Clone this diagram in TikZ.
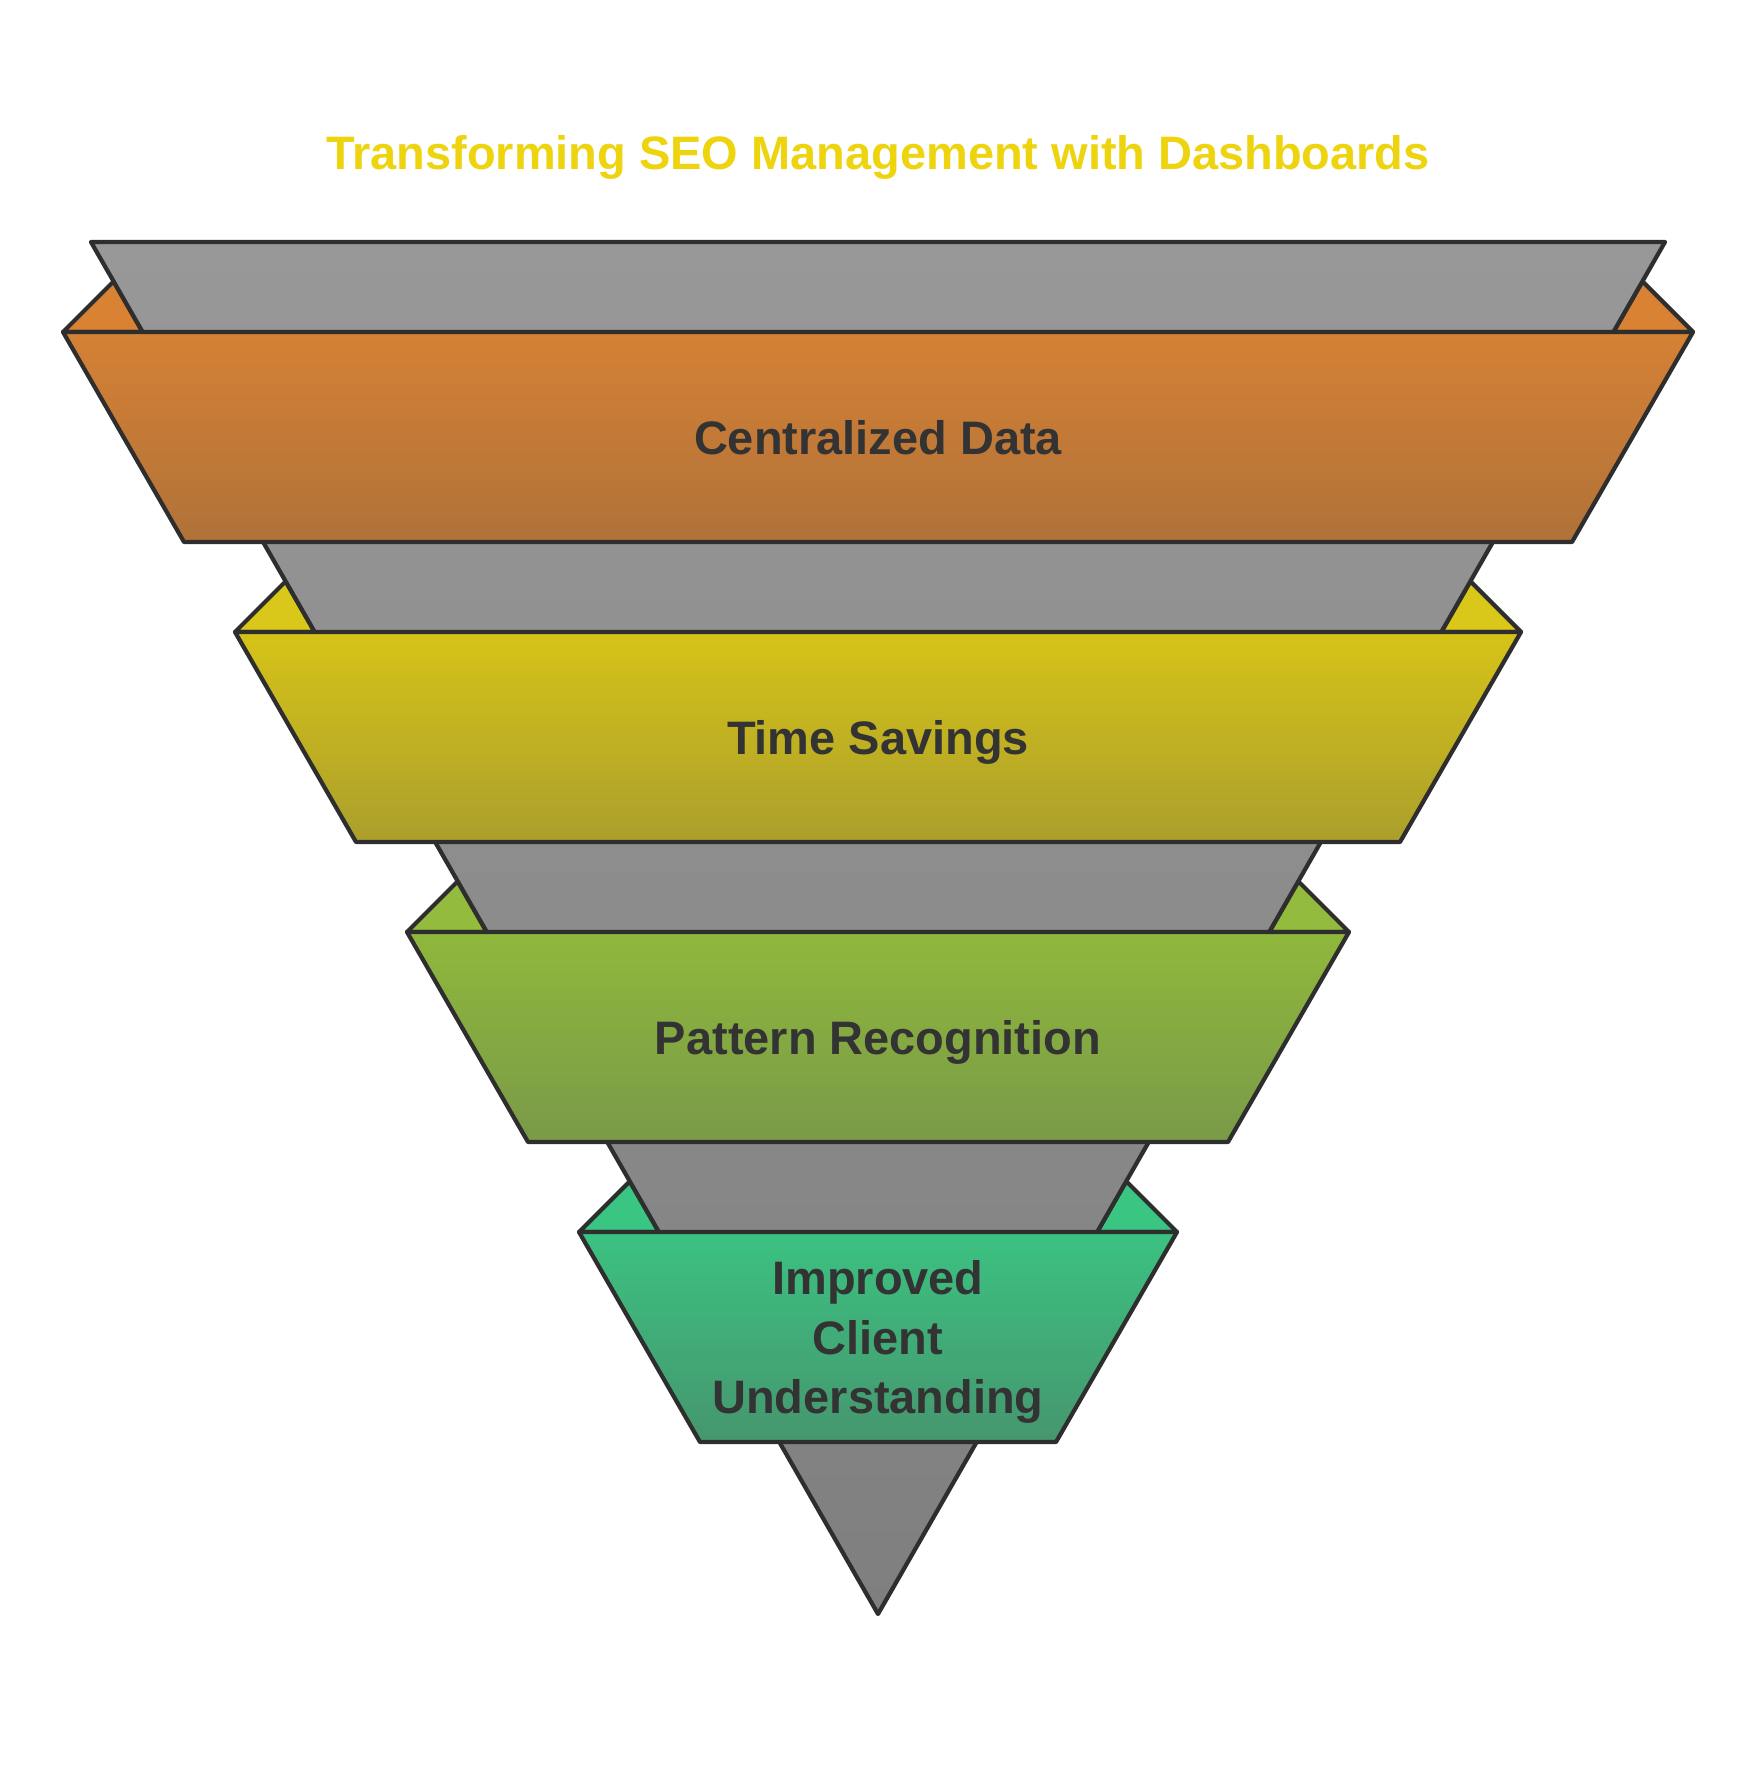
\documentclass[tikz,border=0pt]{standalone}
\usepackage{fontspec}
\setmainfont{Liberation Sans}
\definecolor{lineC}{HTML}{2E2E2E}
\definecolor{textC}{HTML}{333333}
\definecolor{titleC}{HTML}{EDD40F}
\definecolor{grayTop}{HTML}{989898}
\definecolor{grayBot}{HTML}{7F7F7F}
\definecolor{orTop}{HTML}{D58135}
\definecolor{orBot}{HTML}{B07238}
\definecolor{orTab}{HTML}{D98234}
\definecolor{ylTop}{HTML}{D6C318}
\definecolor{ylBot}{HTML}{AB9F2C}
\definecolor{ylTab}{HTML}{D9C719}
\definecolor{grTop}{HTML}{8FB83C}
\definecolor{grBot}{HTML}{7A9A48}
\definecolor{grTab}{HTML}{93BB3D}
\definecolor{tlTop}{HTML}{3BC281}
\definecolor{tlBot}{HTML}{46966E}
\definecolor{tlTab}{HTML}{3BC583}
\tikzset{
	outline/.style={draw=lineC,line width=1.2pt,line join=round},
	funnel/.style={outline,top color=grayTop,bottom color=grayBot},
	tabtri/.style={outline,fill=#1},
	bandbox/.style 2 args={outline,top color=#1,bottom color=#2},
	lbl/.style={font=\bfseries\fontsize{13.35}{17}\selectfont,text=textC,align=center,text depth=0pt}
}

\begin{document}
\begin{tikzpicture}[x=0.01cm,y=-0.01cm]
	\useasboundingbox (0,0) rectangle (1756,1776);
	\node [lbl,text=titleC,anchor=base] (title) at (878,170) {Transforming SEO Management with Dashboards};

	% side tabs
	\foreach \i/\tb in {0/orTab,1/ylTab,2/grTab,3/tlTab}{
		\pgfmathsetmacro\yt{332+300*\i}
		\pgfmathsetmacro\xc{63+172*\i}
		\pgfmathsetmacro\xg{91+0.5736*(\yt-242)}
		\pgfmathsetmacro\th{(\xg-\xc)/1.5736}
		\draw [tabtri=\tb] (\xc,\yt) -- (\xc+\th,\yt-\th) -- (\xg,\yt) -- cycle;
		\draw [tabtri=\tb] (1756-\xc,\yt) -- (1756-\xc-\th,\yt-\th) -- (1756-\xg,\yt) -- cycle;
	}

	\draw [funnel] (91,242) -- (1665,242) -- (878,1614) -- cycle;

	% bands
	\foreach \i/\ct/\cb/\txt in {0/orTop/orBot/{Centralized Data},1/ylTop/ylBot/{Time Savings},2/grTop/grBot/{Pattern Recognition},3/tlTop/tlBot/{Improved\\Client\\Understanding}}{
		\pgfmathsetmacro\yt{332+300*\i}
		\pgfmathsetmacro\w{815-172*\i}
		\draw [bandbox={\ct}{\cb}] (878-\w,\yt) -- (878+\w,\yt) -- (878+\w-121,\yt+210) -- (878-\w+121,\yt+210) -- cycle;
		\node [lbl] (band\i) at (878,\yt+105) {\txt};
	}
\end{tikzpicture}
\end{document}
